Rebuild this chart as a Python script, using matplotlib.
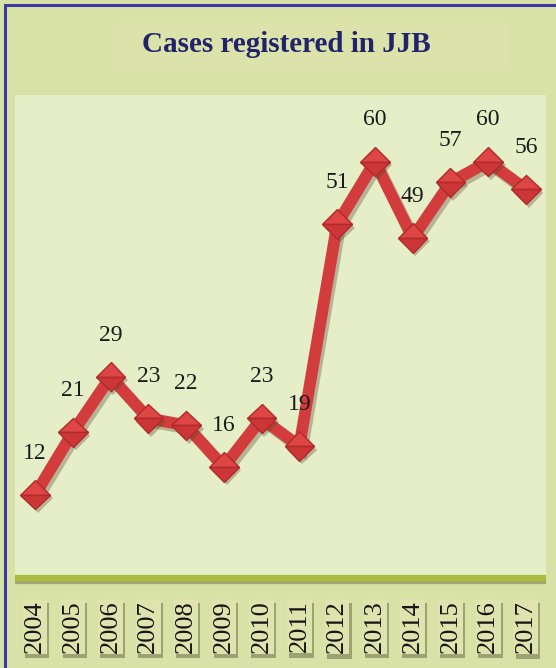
import matplotlib.pyplot as plt
import matplotlib.patheffects as pe
from matplotlib.patches import Rectangle

years = [2004, 2005, 2006, 2007, 2008, 2009, 2010, 2011, 2012, 2013, 2014, 2015, 2016, 2017]
cases = [12, 21, 29, 23, 22, 16, 23, 19, 51, 60, 49, 57, 60, 56]
title = "Cases registered in JJB"

plt.rcParams['font.family'] = ['Liberation Serif', 'DejaVu Serif']

W, H = 556, 668
fig = plt.figure(figsize=(W / 100, H / 100), dpi=100)
fig.patch.set_facecolor('#d9e2a6')

# outer frame (left and top edges show)
fig.add_artist(Rectangle((5 / W, -0.05), 1.2, (1 - 5 / H) + 0.05, transform=fig.transFigure,
                         facecolor='none', edgecolor='#3c3ca0', linewidth=2.2))

# faint box behind the title
fig.add_artist(Rectangle((113 / W, 1 - 70 / H), 397 / W, 48 / H, transform=fig.transFigure,
                         facecolor='#dbe3ab', edgecolor='none'))
fig.text(286 / W, 1 - 44 / H, title, ha='center', va='center', fontsize=21,
         fontweight='bold', color='#23236b')

ax = fig.add_axes([15 / W, 1 - 578 / H, 531 / W, 483 / H])
ax.set_facecolor('#e6eec8')
ax.set_xlim(2003.47, 2017.53)
ax.set_ylim(0, 69.6)
ax.set_yticks([])
for s in ['left', 'right', 'top']:
    ax.spines[s].set_visible(False)
ax.spines['bottom'].set_color('#a9bc40')
ax.spines['bottom'].set_linewidth(4.5)
ax.spines['bottom'].set_capstyle('butt')
ax.spines['bottom'].set_path_effects([pe.SimpleLineShadow(offset=(0, -2.5), shadow_color='#6b7040', alpha=0.5),
                                      pe.Normal()])

line_shadow = [pe.SimpleLineShadow(offset=(2, -2.5), shadow_color='#5a4a30', alpha=0.35), pe.Normal()]
ax.plot(years, cases, color='#d23c3c', linewidth=8.5, solid_joinstyle='miter',
        path_effects=line_shadow, zorder=2)
# diamonds, upper half a touch lighter
ax.plot(years, cases, linestyle='none', marker='D', markersize=15, fillstyle='top',
        markerfacecolor='#de4646', markerfacecoloralt='#cd3636',
        markeredgecolor='#b02a2a', markeredgewidth=1.0,
        path_effects=[pe.SimplePatchShadow(offset=(2, -2.5), shadow_rgbFace='#5a4a30', alpha=0.35),
                      pe.Normal()], zorder=3)

for x, y in zip(years, cases):
    ax.annotate(str(y), (x, y), xytext=(0, 30), textcoords='offset points',
                ha='center', va='center', fontsize=17, color='#1a1a1a')

ax.set_xticks(years)
ax.set_xticklabels([str(y) for y in years], rotation=90, fontsize=19, color='#151515')
ax.tick_params(axis='x', length=0, pad=16)
for lab in ax.get_xticklabels():
    lab.set_bbox(dict(facecolor='#dfe4ae', edgecolor='none', pad=1.0))
    lab.get_bbox_patch().set_path_effects([
        pe.SimplePatchShadow(offset=(1.5, -3), shadow_rgbFace='#5f6540', alpha=0.5),
        pe.Normal()])

fig.savefig('out.png', dpi=100, facecolor=fig.get_facecolor())
